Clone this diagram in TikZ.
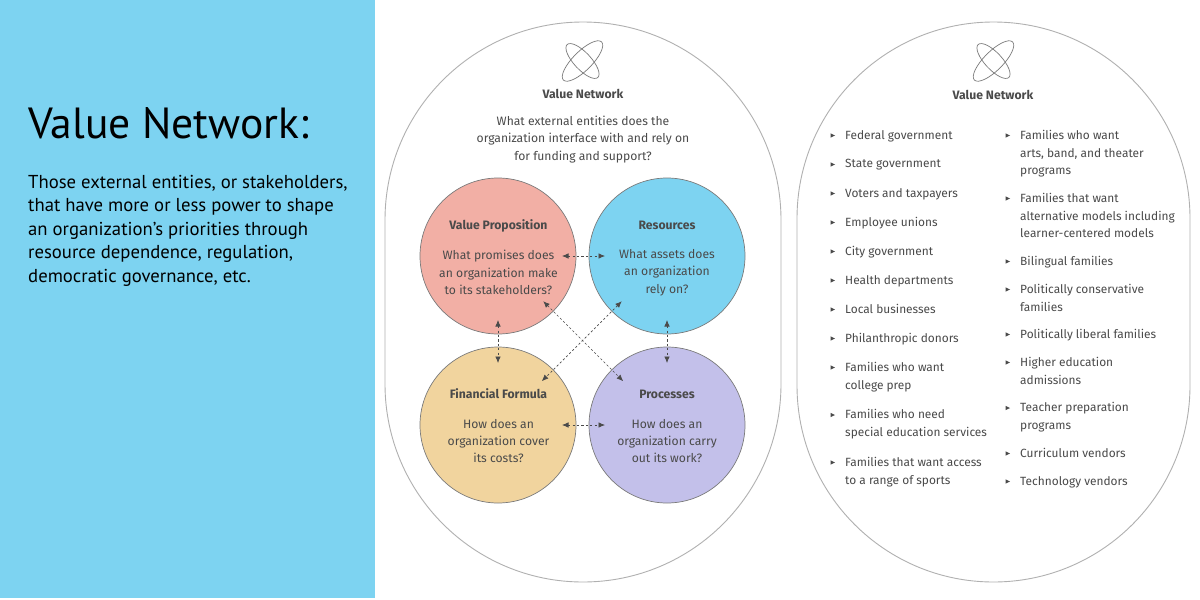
\documentclass[tikz,border=0pt]{standalone}
\usepackage{fontspec}
\setmainfont{Fira Sans}
\newfontfamily\titlefont{PT Sans}
\usetikzlibrary{arrows.meta}
\definecolor{skyb}{HTML}{7DD3F1}
\definecolor{redc}{HTML}{F2AFA5}
\definecolor{yelc}{HTML}{F1D49E}
\definecolor{purc}{HTML}{C3C0EA}
\definecolor{txt}{HTML}{4A4A4A}
\definecolor{capl}{HTML}{B0B0B0}
\definecolor{rimc}{HTML}{7A7A7A}
\tikzset{
 x=1pt,y=-1pt,
 capsule/.style={draw=capl,line width=.9pt,fill=white},
 disc/.style={circle,draw=rimc,line width=.7pt,minimum size=156pt,inner sep=0pt},
 head/.style={font=\fontsize{12.2}{15}\selectfont\bfseries,text=txt,inner sep=0pt,anchor=center},
 body/.style={font=\fontsize{12.15}{17.4}\selectfont,text=txt,align=center,inner sep=0pt,anchor=center},
 item/.style={font=\fontsize{11.9}{17.6}\selectfont,text=txt,align=left,inner sep=0pt,anchor=north west},
 link/.style={draw=txt,line width=.7pt,dash pattern=on 2.2pt off 2.2pt,{Latex[length=6.5pt,width=5.5pt]}-{Latex[length=6.5pt,width=5.5pt]},shorten <=64pt,shorten >=62pt},
 logo/.style={draw=rimc,line width=.7pt},
 bul/.style={fill=txt,draw=none}
}
\newcommand{\logomark}[2]{%
 \draw[logo,rotate around={-45:(#1,#2)}] (#1,#2) ellipse [x radius=9.5pt,y radius=27pt];
 \draw[logo,rotate around={43:(#1,#2)}] (#1,#2) ellipse [x radius=8.5pt,y radius=22.5pt];
}
\newcommand{\itm}[4][]{%
 \fill[bul] (#2+.5,#3+3.3) -- (#2+5,#3+5.5) -- (#2+.5,#3+7.7) -- cycle;
 \node[item] at (#2+15,#3) {#4};
}
\begin{document}
\begin{tikzpicture}
\useasboundingbox (0,0) rectangle (1200,600);
\fill[white] (0,0) rectangle (1200,600);
\fill[skyb] (0,0) rectangle (375,598);
\node[anchor=base west,inner sep=0pt,font=\titlefont\fontsize{43.6}{50}\selectfont,text=black] (title) at (28,138) {Value Network:};
\node[anchor=base west,inner sep=0pt,align=left,font=\titlefont\fontsize{18.7}{23.6}\selectfont,text=black] (desc) at (28,282.5) {Those external entities, or stakeholders,\\that have more or less power to shape\\an organization’s priorities through\\resource dependence, regulation,\\democratic governance, etc.};
\draw[capsule] (385,220) arc[start angle=180,end angle=360,radius=198] -- (781,384) arc[start angle=0,end angle=180,radius=198] -- cycle;
\draw[capsule] (797,218.5) arc[start angle=180,end angle=360,radius=196.5] -- (1190,385.5) arc[start angle=0,end angle=180,radius=196.5] -- cycle;
\logomark{582.5}{61}
\logomark{993.5}{61}
\node[head] (vn1) at (583,94) {Value Network};
\node[head] (vn2) at (993,95) {Value Network};
\node[body] (q) at (583,139.5) {What external entities does the\\organization interface with and rely on\\for funding and support?};
\node[disc,fill=redc] (vp) at (498,256) {};
\node[disc,fill=skyb] (res) at (667,256) {};
\node[disc,fill=yelc] (ff) at (498,425) {};
\node[disc,fill=purc] (pr) at (667,425) {};
\node[head] at (498.5,225.5) {Value Proposition};
\node[body] at (498.5,272.5) {What promises does\\an organization make\\to its stakeholders?};
\node[head] at (667,225.5) {Resources};
\node[body] at (667,272.5) {What assets does\\an organization\\rely on?};
\node[head] at (498.5,394) {Financial Formula};
\node[body] at (498.5,441) {How does an\\organization cover\\its costs?};
\node[head] at (667,394) {Processes};
\node[body] at (667,441) {How does an\\organization carry\\out its work?};
\draw[link] (vp.center) -- (res.center);
\draw[link] (ff.center) -- (pr.center);
\draw[link] (vp.center) -- (ff.center);
\draw[link] (res.center) -- (pr.center);
\draw[link] (vp.center) -- (pr.center);
\draw[link] (res.center) -- (ff.center);
\itm{830}{130}{Federal government}
\itm{830}{159}{State government}
\itm{830}{188}{Voters and taxpayers}
\itm{830}{217}{Employee unions}
\itm{830}{246}{City government}
\itm{830}{275}{Health departments}
\itm{830}{304}{Local businesses}
\itm{830}{333}{Philanthropic donors}
\itm{830}{362}{Families who want\\college prep}
\itm{830}{409.5}{Families who need\\special education services}
\itm{830}{457}{Families that want access\\to a range of sports}
\itm{1005}{130}{Families who want\\arts, band, and theater\\programs}
\itm{1005}{193}{Families that want\\alternative models including\\learner-centered models}
\itm{1005}{256}{Bilingual families}
\itm{1005}{284}{Politically conservative\\families}
\itm{1005}{329}{Politically liberal families}
\itm{1005}{357}{Higher education\\admissions}
\itm{1005}{402.5}{Teacher preparation\\programs}
\itm{1005}{448}{Curriculum vendors}
\itm{1005}{476}{Technology vendors}
\end{tikzpicture}
\end{document}
